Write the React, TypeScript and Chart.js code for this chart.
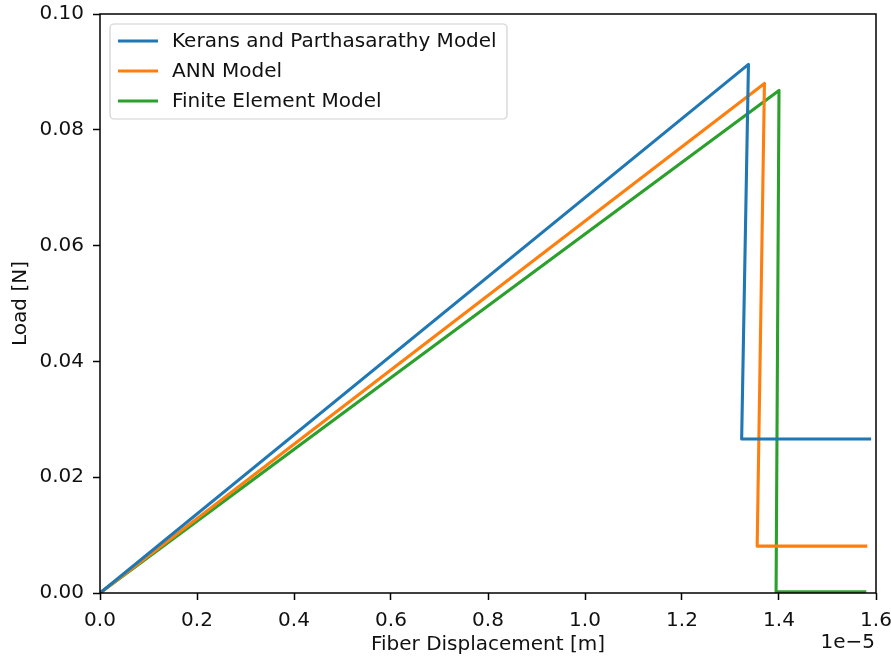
import React, { useEffect, useRef } from "react";
import { Chart, registerables } from "chart.js";

Chart.register(...registerables);

// Fiber displacement in units of 1e-5 m, load in N
const kpDisp = [0, 1.337, 1.323, 1.59];
const kpLoad = [0, 0.0913, 0.0266, 0.0266];

const annDisp = [0, 1.37, 1.355, 1.582];
const annLoad = [0, 0.088, 0.0081, 0.0081];

const feDisp = [0, 1.4, 1.394, 1.58];
const feLoad = [0, 0.0868, 0.0002, 0.0002];

const seriesNames = ["Kerans and Parthasarathy Model", "ANN Model", "Finite Element Model"];
const seriesColors = ["#1f77b4", "#ff7f0e", "#2ca02c"];

const xTitle = "Fiber Displacement [m]";
const yTitle = "Load [N]";
const xOffsetLabel = "1e\u22125";

const FONT = "'DejaVu Sans', sans-serif";
const FONT_SIZE = 20;
const LINE_WIDTH = 3.1;
const TEXT_COLOR = "#111";

const toPoints = (xs: number[], ys: number[]) => xs.map((x, i) => ({ x, y: ys[i] }));

// Frame, in-plot legend and the axis offset label
const decorations = {
  id: "decorations",
  afterDraw(chart: any) {
    const { ctx, chartArea } = chart;
    const { left, right, top, bottom } = chartArea;
    ctx.save();
    ctx.strokeStyle = "#000";
    ctx.lineWidth = 1.5;
    ctx.strokeRect(left, top, right - left, bottom - top);

    // legend
    const lx = 110, ly = 24, lw = 397, lh = 95, r = 4;
    ctx.beginPath();
    ctx.moveTo(lx + r, ly);
    ctx.lineTo(lx + lw - r, ly);
    ctx.arcTo(lx + lw, ly, lx + lw, ly + r, r);
    ctx.lineTo(lx + lw, ly + lh - r);
    ctx.arcTo(lx + lw, ly + lh, lx + lw - r, ly + lh, r);
    ctx.lineTo(lx + r, ly + lh);
    ctx.arcTo(lx, ly + lh, lx, ly + lh - r, r);
    ctx.lineTo(lx, ly + r);
    ctx.arcTo(lx, ly, lx + r, ly, r);
    ctx.closePath();
    ctx.fillStyle = "rgba(255,255,255,0.8)";
    ctx.fill();
    ctx.strokeStyle = "#d0d0d0";
    ctx.lineWidth = 1.2;
    ctx.stroke();

    ctx.font = `${FONT_SIZE}px ${FONT}`;
    ctx.textBaseline = "middle";
    ctx.textAlign = "left";
    seriesNames.forEach((name, i) => {
      const y = 41 + i * 30;
      ctx.strokeStyle = seriesColors[i];
      ctx.lineWidth = LINE_WIDTH;
      ctx.beginPath();
      ctx.moveTo(118, y);
      ctx.lineTo(158, y);
      ctx.stroke();
      ctx.fillStyle = TEXT_COLOR;
      ctx.fillText(name, 172, y + 1);
    });

    // scale offset for the x axis
    ctx.fillStyle = TEXT_COLOR;
    ctx.textAlign = "right";
    ctx.fillText(xOffsetLabel, right - 1, 643);
    ctx.restore();
  },
};

export default function App() {
  const canvasRef = useRef<HTMLCanvasElement | null>(null);

  useEffect(() => {
    document.body.style.margin = "0";
    const canvas = canvasRef.current;
    if (!canvas) return;
    const datasets = [
      toPoints(kpDisp, kpLoad),
      toPoints(annDisp, annLoad),
      toPoints(feDisp, feLoad),
    ].map((data, i) => ({
      label: seriesNames[i],
      data,
      borderColor: seriesColors[i],
      backgroundColor: seriesColors[i],
      borderWidth: LINE_WIDTH,
      pointRadius: 0,
      tension: 0,
      borderJoinStyle: "round" as const,
      borderCapStyle: "butt" as const,
      fill: false,
    }));

    const tickFont = { family: FONT, size: FONT_SIZE };
    const chart = new Chart(canvas, {
      type: "line",
      data: { datasets },
      plugins: [decorations],
      options: {
        animation: false,
        responsive: false,
        devicePixelRatio: 1,
        layout: { padding: { top: 14, right: 15, left: 0, bottom: 0 } },
        plugins: { legend: { display: false }, tooltip: { enabled: false } },
        scales: {
          x: {
            type: "linear",
            min: 0,
            max: 1.6,
            afterFit: (s: any) => {
              s.height = 65;
              s.paddingLeft = 0;
              s.paddingRight = 0;
            },
            ticks: {
              stepSize: 0.2,
              color: TEXT_COLOR,
              font: tickFont,
              padding: 9,
              maxRotation: 0,
              callback: (v: any) => Number(v).toFixed(1),
            },
            grid: { drawOnChartArea: false, drawTicks: true, tickLength: 7, tickWidth: 1.5, tickColor: "#000" },
            border: { display: false },
            title: { display: true, text: xTitle, color: TEXT_COLOR, font: tickFont, padding: { top: 0, bottom: 1 } },
          },
          y: {
            type: "linear",
            min: 0,
            max: 0.1,
            afterFit: (s: any) => {
              s.width = 100;
              s.paddingTop = 0;
              s.paddingBottom = 0;
            },
            ticks: {
              stepSize: 0.02,
              color: TEXT_COLOR,
              font: tickFont,
              padding: 9,
              callback: (v: any) => Number(v).toFixed(2),
            },
            grid: { drawOnChartArea: false, drawTicks: true, tickLength: 7, tickWidth: 1.5, tickColor: "#000" },
            border: { display: false },
            title: { display: true, text: yTitle, color: TEXT_COLOR, font: tickFont, padding: { top: 9, bottom: 0 } },
          },
        },
      },
    });
    return () => chart.destroy();
  }, []);

  return (
    <div style={{ position: "absolute", left: 0, top: 0, width: 891, height: 658, background: "#fff" }}>
      <canvas ref={canvasRef} width={891} height={658} />
    </div>
  );
}
